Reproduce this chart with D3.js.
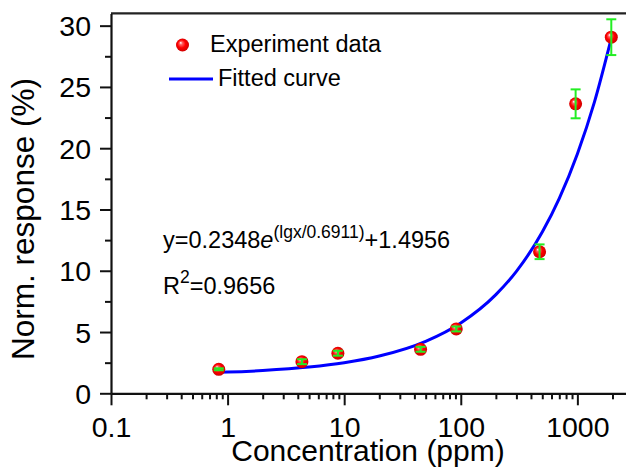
<!DOCTYPE html>
<html>
<head>
<meta charset="utf-8">
<script src="https://cdn.jsdelivr.net/npm/d3@7"></script>
<style>
  html, body { margin: 0; padding: 0; background: #fff; }
  svg { display: block; }
  text { font-family: "Liberation Sans", Arial, sans-serif; fill: #000; }
</style>
</head>
<body>
<svg id="chart" width="626" height="472"></svg>
<script>
// ---- data ----
const concentration = [0.84, 4.34, 8.83, 45.2, 91.5, 474, 966, 1954];
const response      = [1.96, 2.58, 3.27, 3.59, 5.25, 11.55, 23.62, 29.06];
const responseErr   = [0.08, 0.2, 0.2, 0.2, 0.2, 0.6, 1.18, 1.46];

// fitted curve, sampled along the plotted blue line
const fitX = [0.84, 1, 2, 5, 10, 20, 50, 100, 200, 300, 500, 700, 1000, 1400, 1954];
const fitY = [1.71, 1.73, 1.86, 2.14, 2.49, 3.04, 4.24, 5.74, 8.05, 9.95, 13.16, 15.91, 19.53, 23.76, 28.97];

const xTickValues = [0.1, 1, 10, 100, 1000];
const xTickLabels = ["0.1", "1", "10", "100", "1000"];
const yTickValues = [0, 5, 10, 15, 20, 25, 30];

const legendLabels = ["Experiment data", "Fitted curve"];
const xTitle = "Concentration (ppm)";
const yTitle = "Norm. response (%)";

// ---- layout ----
const svg = d3.select("#chart");
const pLeft = 111, pRight = 633, pTop = 13.4, pBottom = 393.3;

const x = d3.scaleLog().domain([0.1, 3000]).range([pLeft, pRight]);
const y = d3.scaleLinear().domain([0, 31]).range([pBottom, pTop]);

const defs = svg.append("defs");
const grad = defs.append("radialGradient").attr("id", "ball")
  .attr("cx", "50%").attr("cy", "50%").attr("r", "55%")
  .attr("fx", "35%").attr("fy", "32%");
grad.append("stop").attr("offset", "0%").attr("stop-color", "#ffffff");
grad.append("stop").attr("offset", "22%").attr("stop-color", "#ff6060");
grad.append("stop").attr("offset", "55%").attr("stop-color", "#ff0000");
grad.append("stop").attr("offset", "100%").attr("stop-color", "#c80000");

// frame: top border
svg.append("line").attr("x1", pLeft).attr("x2", 640).attr("y1", pTop).attr("y2", pTop)
  .attr("stroke", "#222").attr("stroke-width", 2.2);

// ---- axes ----
const minorX = [];
for (let e = -1; e <= 3; e++) {
  for (let m = 2; m <= 9; m++) {
    const v = m * Math.pow(10, e);
    if (v <= 3000) minorX.push(v);
  }
}
const xAxis = svg.append("g").attr("transform", `translate(0,${pBottom})`)
  .call(d3.axisBottom(x).tickValues(xTickValues)
    .tickFormat((d, i) => xTickLabels[i]).tickSize(12).tickPadding(6).tickSizeOuter(0));
svg.append("g").attr("transform", `translate(0,${pBottom})`)
  .call(d3.axisBottom(x).tickValues(minorX).tickFormat("").tickSize(6).tickSizeOuter(0))
  .call(g => g.select(".domain").remove());

const minorY = d3.range(2.5, 30, 5);
const yAxis = svg.append("g").attr("transform", `translate(${pLeft},0)`)
  .call(d3.axisLeft(y).tickValues(yTickValues).tickSize(11).tickPadding(9).tickSizeOuter(0));
svg.append("g").attr("transform", `translate(${pLeft},0)`)
  .call(d3.axisLeft(y).tickValues(minorY).tickFormat("").tickSize(6).tickSizeOuter(0))
  .call(g => g.select(".domain").remove());

svg.selectAll(".domain").attr("stroke", "#111").attr("stroke-width", 2.2);
svg.selectAll(".tick line").attr("stroke", "#111").attr("stroke-width", 2);
xAxis.selectAll("text").attr("font-size", 28.5).attr("dy", 0).attr("y", 43.5)
  .style("font-family", '"Liberation Sans", Arial, sans-serif').attr("fill", "#000");
yAxis.selectAll("text").attr("font-size", 28.5).attr("dy", "0.35em")
  .style("font-family", '"Liberation Sans", Arial, sans-serif').attr("fill", "#000");

// axis titles
svg.append("text").attr("x", 368).attr("y", 461).attr("text-anchor", "middle")
  .attr("font-size", 30).text(xTitle);
svg.append("text").attr("transform", "translate(34,219) rotate(-90)")
  .attr("text-anchor", "middle").attr("font-size", 31.5).text(yTitle);

// ---- fitted curve ----
const fitData = fitX.map((v, i) => [v, fitY[i]]);
svg.append("path").datum(fitData)
  .attr("fill", "none").attr("stroke", "#0000ff").attr("stroke-width", 3)
  .attr("d", d3.line().x(d => x(d[0])).y(d => y(d[1])).curve(d3.curveMonotoneX));

// ---- data points ----
const pts = concentration.map((c, i) => ({ c, r: response[i], e: responseErr[i] }));
const pg = svg.append("g");
pg.selectAll("circle").data(pts).join("circle")
  .attr("cx", d => x(d.c)).attr("cy", d => y(d.r)).attr("r", 6.5)
  .attr("fill", "url(#ball)");
const eg = svg.append("g").attr("stroke", "#22ee22").attr("stroke-width", 2);
eg.selectAll("line.v").data(pts).join("line").attr("class", "v")
  .attr("x1", d => x(d.c)).attr("x2", d => x(d.c))
  .attr("y1", d => y(d.r - d.e)).attr("y2", d => y(d.r + d.e));
eg.selectAll("line.t").data(pts).join("line").attr("class", "t")
  .attr("x1", d => x(d.c) - 5).attr("x2", d => x(d.c) + 5)
  .attr("y1", d => y(d.r + d.e)).attr("y2", d => y(d.r + d.e));
eg.selectAll("line.b").data(pts).join("line").attr("class", "b")
  .attr("x1", d => x(d.c) - 5).attr("x2", d => x(d.c) + 5)
  .attr("y1", d => y(d.r - d.e)).attr("y2", d => y(d.r - d.e));

// ---- legend ----
svg.append("circle").attr("cx", 182.5).attr("cy", 45).attr("r", 6.5).attr("fill", "url(#ball)");
svg.append("text").attr("x", 210).attr("y", 52).attr("font-size", 23.5).text(legendLabels[0]);
svg.append("line").attr("x1", 169).attr("x2", 213).attr("y1", 79).attr("y2", 79)
  .attr("stroke", "#0000ff").attr("stroke-width", 3);
svg.append("text").attr("x", 218).attr("y", 86).attr("font-size", 23.5).text(legendLabels[1]);

// ---- annotation ----
const eq = svg.append("text").attr("x", 163).attr("y", 248).attr("font-size", 23.5);
eq.append("tspan").text("y=0.2348");
eq.append("tspan").attr("font-style", "italic").text("e");
eq.append("tspan").attr("dy", -10).attr("font-size", 17.5).text("(lgx/0.6911)");
eq.append("tspan").attr("dy", 10).text("+1.4956");

const r2 = svg.append("text").attr("x", 163).attr("y", 294).attr("font-size", 23.5);
r2.append("tspan").text("R");
r2.append("tspan").attr("dy", -11).attr("font-size", 17.5).text("2");
r2.append("tspan").attr("dy", 11).text("=0.9656");
</script>
</body>
</html>
